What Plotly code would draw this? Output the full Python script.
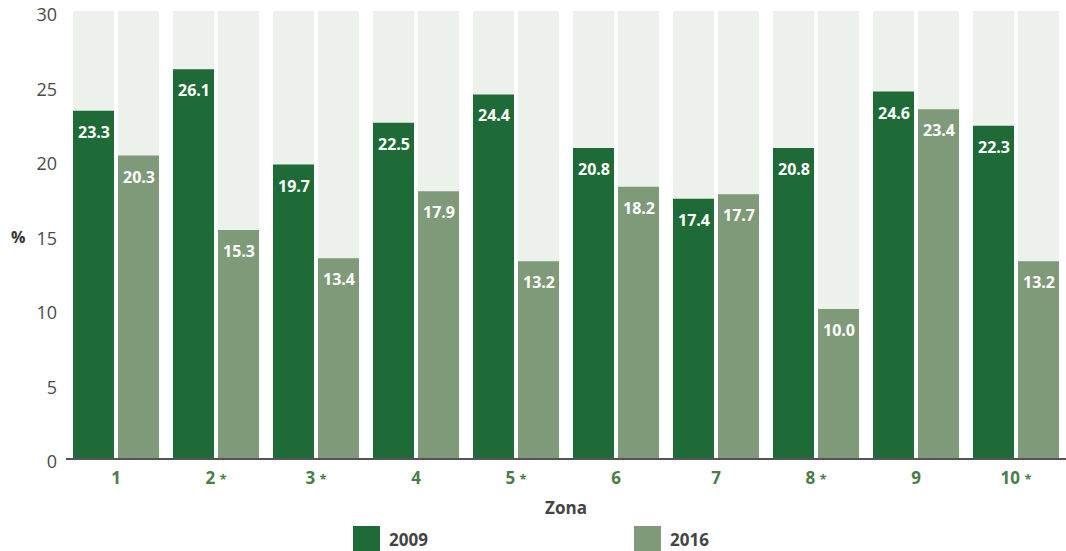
import plotly.graph_objects as go

zones = ["1", "2 *", "3 *", "4", "5 *", "6", "7", "8 *", "9", "10 *"]
v2009 = [23.3, 26.1, 19.7, 22.5, 24.4, 20.8, 17.4, 20.8, 24.6, 22.3]
v2016 = [20.3, 15.3, 13.4, 17.9, 13.2, 18.2, 17.7, 10.0, 23.4, 13.2]
y_max = 30
series_names = ["2009", "2016"]

DARK = "#1f6b37"
LIGHT = "#7f9a79"
BG = "#ecf1ec"
FONT = "Open Sans"

x_idx = list(range(len(zones)))
fig = go.Figure()

offsets = [-0.43, 0.02]
bw = 0.41
for vals, col, off, name in zip([v2009, v2016], [DARK, LIGHT], offsets, series_names):
    fig.add_trace(go.Bar(x=x_idx, y=[y_max] * len(zones), width=bw, offset=off,
                         marker=dict(color=BG, line=dict(width=0)), hoverinfo="skip",
                         showlegend=False))
    fig.add_trace(go.Bar(x=x_idx, y=vals, width=bw, offset=off, name=name,
                         marker=dict(color=col, line=dict(width=0)),
                         showlegend=False))
    for i, v in zip(x_idx, vals):
        fig.add_annotation(x=i + off + bw / 2, y=v, xref="x", yref="y",
                           text=f"<b>{v:.1f}</b>", showarrow=False,
                           yanchor="top", xanchor="center", yshift=-8,
                           font=dict(family=FONT, size=16, color="white"))

ticktext = []
for z in zones:
    if "*" in z:
        n = z.replace(" *", "")
        ticktext.append(f"{n} <span style='font-size:13px'>*</span>")
    else:
        ticktext.append(z)

fig.update_layout(
    barmode="overlay",
    width=1066, height=551,
    margin=dict(l=66, r=0, t=11, b=93, autoexpand=False),
    plot_bgcolor="white", paper_bgcolor="white",
    showlegend=False,
    xaxis=dict(tickmode="array", tickvals=x_idx, ticktext=ticktext, range=[-0.5, 9.5],
               showgrid=False, zeroline=False, showline=True, linecolor="#555555", linewidth=2,
               ticks="", automargin=False, ticklabelstandoff=4,
               tickfont=dict(family=FONT, size=17, color="#4a7d45", weight="bold"),
               title=dict(text="<b>Zona</b>", font=dict(family=FONT, size=17, color="#444444"),
                          standoff=14)),
    yaxis=dict(range=[0, y_max * 1.0001], tickvals=[0, 5, 10, 15, 20, 25, 30], showgrid=False,
               zeroline=False, showline=False, ticks="", ticklabelstandoff=8, automargin=False,
               ticklabeloverflow="allow", ticklabelshift=4,
               tickfont=dict(family=FONT, size=18, color="#4a4a4a")),
)

fig.add_annotation(xref="paper", yref="paper", x=-0.048, y=0.495, text="<b>%</b>",
                   showarrow=False, font=dict(family=FONT, size=16, color="#333333"),
                   xanchor="center", yanchor="middle")

# custom legend
leg = [(353, DARK, series_names[0]), (634, LIGHT, series_names[1])]
for px, col, name in leg:
    fig.add_shape(type="rect", xref="paper", yref="paper",
                  x0=(px - 66) / 1000, x1=(px + 27 - 66) / 1000,
                  y0=(458 - 551) / 447, y1=(458 - 526) / 447,
                  fillcolor=col, line=dict(width=0))
    fig.add_annotation(xref="paper", yref="paper", x=(px + 34 - 66) / 1000,
                       y=(458 - 539) / 447, text=f"<b>{name}</b>", showarrow=False,
                       xanchor="left", yanchor="middle",
                       font=dict(family=FONT, size=17, color="#444444"))

fig.write_html("out.html", config={"displayModeBar": False},
               post_script="document.body.style.margin='0';")
